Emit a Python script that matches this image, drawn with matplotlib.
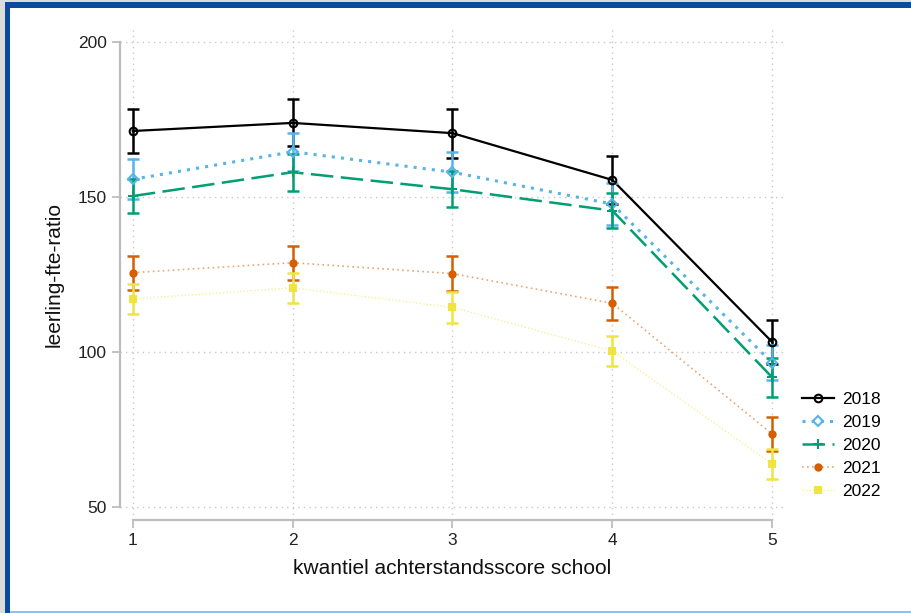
import numpy as np
import matplotlib
matplotlib.use('Agg')
import matplotlib.pyplot as plt
from matplotlib.patches import Rectangle

plt.rcParams['font.family'] = ['Liberation Sans', 'DejaVu Sans']

# data
kwantiel = [1, 2, 3, 4, 5]
jaren = ['2018', '2019', '2020', '2021', '2022']
ratio = {
    '2018': [171.3, 173.9, 170.6, 155.5, 103.2],
    '2019': [155.7, 164.6, 158.0, 147.7, 96.5],
    '2020': [150.3, 158.0, 152.5, 145.6, 91.8],
    '2021': [125.6, 128.8, 125.3, 115.7, 73.5],
    '2022': [117.1, 120.7, 114.4, 100.3, 63.8],
}
fout = {
    '2018': [7.2, 7.6, 7.9, 7.7, 7.1],
    '2019': [6.5, 6.1, 6.4, 6.7, 5.6],
    '2020': [5.6, 6.0, 5.8, 5.7, 6.2],
    '2021': [5.5, 5.5, 5.7, 5.4, 5.6],
    '2022': [4.8, 4.9, 5.1, 4.7, 4.8],
}

kleuren = {'2018': '#000000', '2019': '#56B4E9', '2020': '#009E73',
           '2021': '#D55E00', '2022': '#F0E442'}
stijl = {
    '2018': dict(ls='-', lw=1.6, marker='o', ms=5.5, mfc='none', alpha=1.0),
    '2019': dict(ls=(0, (1, 2)), lw=2.2, marker='D', ms=5, mfc='none', alpha=1.0),
    '2020': dict(ls=(0, (9, 3)), lw=1.8, marker='+', ms=7, mfc='none', alpha=1.0),
    '2021': dict(ls=(0, (1, 2)), lw=1.2, marker='o', ms=4.5, mfc=None, alpha=0.55),
    '2022': dict(ls=(0, (1, 1.5)), lw=1.0, marker='s', ms=5, mfc=None, alpha=0.55),
}

fig = plt.figure(figsize=(9.12, 6.13), dpi=100)
ax = fig.add_axes([120/912, 1-520/613, (785-120)/912, (520-29)/613])

for j in jaren:
    c = kleuren[j]
    s = stijl[j]
    ax.errorbar(kwantiel, ratio[j], yerr=fout[j], fmt='none', ecolor=c,
                elinewidth=1.8, capsize=4, capthick=1.8, zorder=3)
    ax.plot(kwantiel, ratio[j], color=c, ls=s['ls'], lw=s['lw'], alpha=s['alpha'], zorder=2)
    mfc = c if s['mfc'] is None else 'none'
    ax.plot(kwantiel, ratio[j], ls='none', marker=s['marker'], ms=s['ms'],
            mfc=mfc, mec=c, mew=1.5, color=c, zorder=4)

# legenda handles
handles = []
for j in jaren:
    c = kleuren[j]
    s = stijl[j]
    mfc = c if s['mfc'] is None else 'none'
    lc = c if s['alpha'] == 1.0 else matplotlib.colors.to_rgba(c, s['alpha'])
    h, = ax.plot([], [], color=lc, ls=s['ls'], lw=s['lw'], marker=s['marker'],
                 ms=s['ms'], mfc=mfc, mec=c, mew=1.5)
    handles.append(h)
ax.legend(handles, jaren, loc='center left', bbox_to_anchor=(1.0, 0.152),
          frameon=False, fontsize=12.5, handlelength=1.8, labelspacing=0.45,
          handletextpad=0.5, borderaxespad=0.6)

ax.set_xlim(0.92, 5.08)
ax.set_ylim(45.8, 204.2)
ax.set_xticks(kwantiel)
ax.set_yticks([50, 100, 150, 200])
ax.grid(True, ls=(0, (1, 3)), color='#c8c8c8', lw=1)
ax.set_axisbelow(True)

for k in ['top', 'right']:
    ax.spines[k].set_visible(False)
ax.spines['left'].set_bounds(50, 200)
ax.spines['bottom'].set_bounds(1, 5)
for k in ['left', 'bottom']:
    ax.spines[k].set_color('#bdbdbd')
    ax.spines[k].set_linewidth(1.6)
ax.tick_params(colors='#bdbdbd', labelcolor='#222222', labelsize=12.5, length=6, width=1.3)

ax.set_xlabel('kwantiel achterstandsscore school', fontsize=15, color='#111111', labelpad=8)
ax.set_ylabel('leerling-fte-ratio', fontsize=15, color='#111111', labelpad=10)

# kader rondom
W, H = 912, 613
def rect(x, y, w, h, kleur):
    fig.patches.append(Rectangle((x/W, 1-(y+h)/H), w/W, h/H, transform=fig.transFigure,
                                 facecolor=kleur, edgecolor='none', zorder=0))
rect(0, 0, 5, H, '#dcddd8')
rect(0, 0, W, 2, '#dcddd8')
rect(5, 2, 5, H, '#0b4a9c')
rect(5, 2, W, 6, '#0b4a9c')
rect(10, 611, W, 2, '#9cbde3')

fig.savefig('out.png', dpi=100)
